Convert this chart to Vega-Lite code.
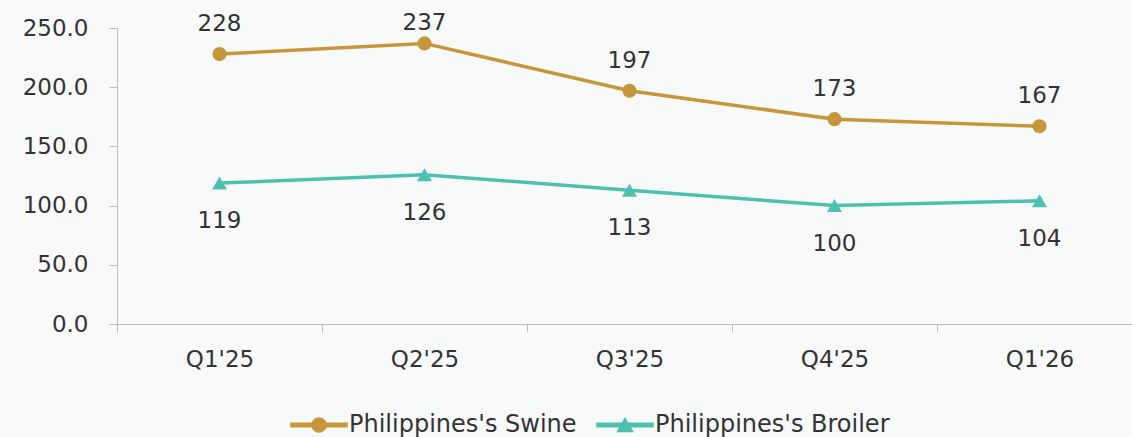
{
  "$schema": "https://vega.github.io/schema/vega-lite/v6.json",
  "width": 1015,
  "height": 296,
  "autosize": {"type": "none"},
  "padding": {"left": 117, "top": 28, "right": 0, "bottom": 113},
  "background": "#f8fafa",
  "config": {"view": {"stroke": null}, "font": "DejaVu Sans"},
  "data": {
    "values": [
      {"quarter": "Q1'25", "series": "Philippines's Swine", "value": 228},
      {"quarter": "Q2'25", "series": "Philippines's Swine", "value": 237},
      {"quarter": "Q3'25", "series": "Philippines's Swine", "value": 197},
      {"quarter": "Q4'25", "series": "Philippines's Swine", "value": 173},
      {"quarter": "Q1'26", "series": "Philippines's Swine", "value": 167},
      {"quarter": "Q1'25", "series": "Philippines's Broiler", "value": 119},
      {"quarter": "Q2'25", "series": "Philippines's Broiler", "value": 126},
      {"quarter": "Q3'25", "series": "Philippines's Broiler", "value": 113},
      {"quarter": "Q4'25", "series": "Philippines's Broiler", "value": 100},
      {"quarter": "Q1'26", "series": "Philippines's Broiler", "value": 104}
    ]
  },
  "encoding": {
    "x": {
      "field": "quarter", "type": "nominal", "sort": null,
      "scale": {"type": "band", "paddingInner": 0, "paddingOuter": 0, "range": [0, 1025]},
      "axis": {"title": null, "labelAngle": 0, "tickBand": "extent", "domainColor": "#bfbfbf", "tickColor": "#bfbfbf", "tickSize": 8, "labelFont": "DejaVu Sans", "labelFontSize": 23, "labelColor": "#333333", "labelPadding": 16}
    },
    "color": {
      "field": "series", "type": "nominal", "sort": null,
      "scale": {"domain": ["Philippines's Swine", "Philippines's Broiler"], "range": ["#c8963a", "#4dc1b0"]},
      "legend": {"title": null, "orient": "none", "legendX": 190, "legendY": 385, "direction": "horizontal", "symbolSize": 196, "labelOffset": 18, "columnPadding": 17, "labelLimit": 0, "labelFont": "DejaVu Sans", "labelFontSize": 24, "labelColor": "#333333", "padding": 0, "symbolOpacity": 1}
    }
  },
  "resolve": {"scale": {"y": "independent"}},
  "layer": [
    {
      "encoding": {
        "y": {
          "field": "value", "type": "quantitative",
          "scale": {"domain": [0, 250]},
          "axis": {"title": null, "values": [0, 50, 100, 150, 200, 250], "format": ".1f", "grid": false, "domainColor": "#bfbfbf", "tickColor": "#bfbfbf", "tickSize": 8, "labelPadding": 21, "labelFont": "DejaVu Sans", "labelFontSize": 23, "labelColor": "#333333"}
        }
      },
      "layer": [
        {
          "transform": [{"filter": "datum.value < 0"}],
          "mark": {"type": "point", "filled": true, "size": 196, "opacity": 1},
          "encoding": {
            "shape": {
              "field": "series", "type": "nominal", "sort": null,
              "scale": {"domain": ["Philippines's Swine", "Philippines's Broiler"], "range": [
                "M-4,-0.25L-0.9,-0.25L-0.9,0.25L-4,0.25Z M0.9,-0.25L4,-0.25L4,0.25L0.9,0.25Z M-1,0A1,1 0 1,1 1,0A1,1 0 1,1 -1,0Z",
                "M-4,-0.25L4,-0.25L4,0.25L-4,0.25Z M-1.07,0.93L0,-0.93L1.07,0.93Z"
              ]},
              "legend": null
            }
          }
        },
        {"mark": {"type": "line", "strokeWidth": 3.5}},
        {
          "transform": [{"filter": "indexof(datum.series, 'Swine') >= 0"}],
          "mark": {"type": "point", "filled": true, "size": 200, "opacity": 1, "shape": "circle"}
        },
        {
          "transform": [{"filter": "indexof(datum.series, 'Broiler') >= 0"}],
          "mark": {"type": "point", "filled": true, "size": 225, "opacity": 1, "shape": "triangle-up"}
        },
        {
          "transform": [{"filter": "indexof(datum.series, 'Broiler') >= 0"}],
          "mark": {"type": "text", "dy": 38, "fontSize": 23, "font": "DejaVu Sans", "baseline": "middle"},
          "encoding": {"text": {"field": "value", "type": "quantitative"}, "color": {"value": "#333333"}}
        }
      ]
    },
    {
      "transform": [{"filter": "indexof(datum.series, 'Swine') >= 0"}],
      "mark": {"type": "text", "dy": -5, "fontSize": 23, "font": "DejaVu Sans", "baseline": "middle"},
      "encoding": {
        "y": {"field": "value", "type": "quantitative", "scale": {"domain": [-21.1, 228.9], "clamp": true, "zero": false, "nice": false}, "axis": null},
        "text": {"field": "value", "type": "quantitative"},
        "color": {"value": "#333333"}
      }
    }
  ]
}
